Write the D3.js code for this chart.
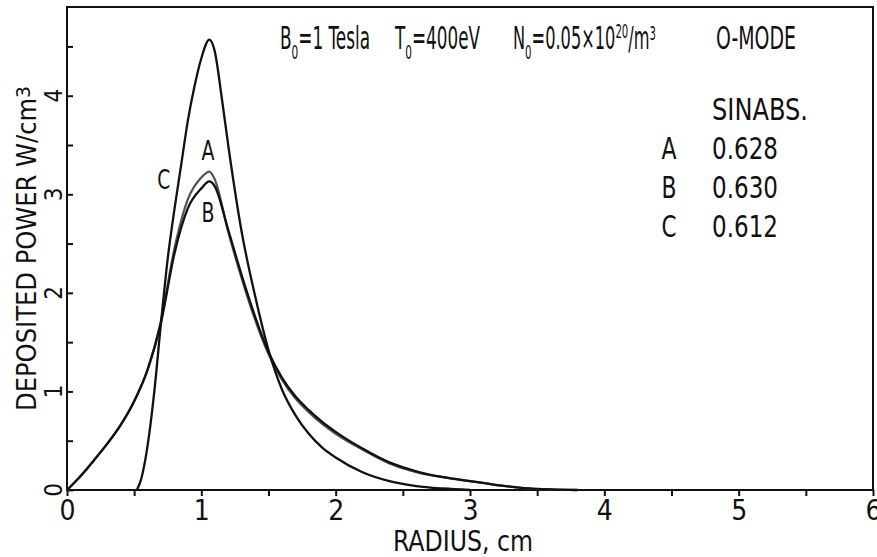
<!DOCTYPE html>
<html>
<head>
<meta charset="utf-8">
<script src="https://cdn.jsdelivr.net/npm/d3@7"></script>
<style>
  body { margin: 0; background: #fff; }
  text { font-family: "DejaVu Sans Condensed", "Liberation Sans Narrow", sans-serif; fill: #111; }
</style>
</head>
<body>
<svg id="chart" width="877" height="557"></svg>
<script>
// radius (cm) samples for curves A and B
const radiusAB = [0, 0.1, 0.2, 0.3, 0.4, 0.5, 0.6, 0.7, 0.8, 0.9, 1.0, 1.06, 1.1, 1.2, 1.3, 1.4, 1.5, 1.6, 1.7, 1.8, 1.9, 2.0, 2.2, 2.4, 2.6, 2.8, 3.0, 3.2, 3.4, 3.6, 3.8];
const powerA = [0, 0.14, 0.30, 0.47, 0.66, 0.90, 1.22, 1.72, 2.45, 2.95, 3.17, 3.23, 3.15, 2.62, 2.15, 1.73, 1.38, 1.12, 0.93, 0.79, 0.67, 0.57, 0.41, 0.27, 0.18, 0.13, 0.09, 0.05, 0.02, 0.006, 0];
const powerB = [0, 0.14, 0.30, 0.47, 0.66, 0.90, 1.22, 1.70, 2.40, 2.86, 3.06, 3.13, 3.08, 2.64, 2.18, 1.76, 1.40, 1.14, 0.95, 0.81, 0.69, 0.59, 0.42, 0.28, 0.19, 0.13, 0.09, 0.05, 0.02, 0.006, 0];
// curve C starts further out
const radiusC = [0.52, 0.55, 0.6, 0.65, 0.7, 0.75, 0.8, 0.85, 0.9, 0.95, 1.0, 1.06, 1.1, 1.15, 1.2, 1.3, 1.4, 1.5, 1.6, 1.7, 1.8, 1.9, 2.0, 2.2, 2.4, 2.6, 2.8, 3.0];
const powerC = [0, 0.1, 0.45, 1.0, 1.7, 2.35, 2.85, 3.3, 3.75, 4.1, 4.38, 4.57, 4.45, 4.0, 3.5, 2.62, 1.97, 1.42, 1.02, 0.76, 0.57, 0.43, 0.33, 0.18, 0.09, 0.04, 0.015, 0];

const yTicks = [0, 1, 2, 3, 4];
const legendKeys = ['A', 'B', 'C'];
const sinabs = ['0.628', '0.630', '0.612'];

const svg = d3.select('#chart');
const margin = { left: 67, right: 4, top: 7, bottom: 67 };
const width = +svg.attr('width');
const height = +svg.attr('height');

const xScale = d3.scaleLinear().domain([0, 6]).range([margin.left, width - margin.right]);
const yScale = d3.scaleLinear().domain([0, 4.9]).range([height - margin.bottom, margin.top]);

// frame
svg.append('rect')
  .attr('x', xScale(0)).attr('y', yScale(4.9))
  .attr('width', xScale(6) - xScale(0))
  .attr('height', yScale(0) - yScale(4.9))
  .attr('fill', 'none').attr('stroke', '#111').attr('stroke-width', 2);

// x axis: ticks every 0.5, outward
const xAxis = d3.axisBottom(xScale)
  .tickValues(d3.range(0, 6.01, 0.5))
  .tickSize(6).tickSizeOuter(0)
  .tickFormat(d => Number.isInteger(d) ? d : '');
const xAxisG = svg.append('g')
  .attr('transform', `translate(0,${yScale(0)})`)
  .call(xAxis);
xAxisG.select('.domain').remove();
xAxisG.selectAll('line').attr('stroke', '#111').attr('stroke-width', 2);
xAxisG.selectAll('text')
  .attr('font-size', 28).attr('dy', '0.95em').attr('y', 3)
  .style('font-family', '"DejaVu Sans Condensed", sans-serif')
  .attr('fill', '#111');

// y axis: ticks inward, labels rotated
const yAxis = d3.axisLeft(yScale)
  .tickValues(d3.range(0, 4.81, 0.5))
  .tickSize(-6).tickSizeOuter(0)
  .tickFormat('');
const yAxisG = svg.append('g')
  .attr('transform', `translate(${xScale(0)},0)`)
  .call(yAxis);
yAxisG.select('.domain').remove();
yAxisG.selectAll('line').attr('stroke', '#111').attr('stroke-width', 2);

svg.append('g').selectAll('text')
  .data(yTicks)
  .join('text')
  .attr('transform', d => `translate(62,${yScale(d)}) rotate(-90)`)
  .attr('text-anchor', 'middle')
  .attr('font-size', 24)
  .text(d => d);

// axis titles
svg.append('text')
  .attr('x', (xScale(0) + xScale(6)) / 2 - 7).attr('y', 551)
  .attr('text-anchor', 'middle')
  .attr('font-size', 28)
  .attr('textLength', 140).attr('lengthAdjust', 'spacingAndGlyphs')
  .text('RADIUS, cm');

const yLab = svg.append('text')
  .attr('transform', `translate(36,${yScale(2.45)}) rotate(-90)`)
  .attr('text-anchor', 'middle')
  .attr('font-size', 26)
  .attr('textLength', 325).attr('lengthAdjust', 'spacingAndGlyphs');
yLab.append('tspan').text('DEPOSITED  POWER  W/cm');
yLab.append('tspan').attr('dy', -6).attr('font-size', 20).text('3');

// curves
const line = d3.line()
  .x(d => xScale(d[0]))
  .y(d => yScale(d[1]))
  .curve(d3.curveMonotoneX);

const series = [
  { key: 'A', pts: d3.zip(radiusAB, powerA), colour: '#555' },
  { key: 'B', pts: d3.zip(radiusAB, powerB), colour: '#111' },
  { key: 'C', pts: d3.zip(radiusC, powerC), colour: '#111' }
];

svg.append('g').selectAll('path')
  .data(series)
  .join('path')
  .attr('d', d => line(d.pts))
  .attr('fill', 'none')
  .attr('stroke', d => d.colour)
  .attr('stroke-width', 2.3);

// curve letters
const curveLabels = [
  { t: 'A', x: 1.05, y: 3.35 },
  { t: 'B', x: 1.05, y: 2.72 },
  { t: 'C', x: 0.72, y: 3.05 }
];
svg.append('g').selectAll('text')
  .data(curveLabels)
  .join('text')
  .attr('x', d => xScale(d.x)).attr('y', d => yScale(d.y))
  .attr('text-anchor', 'middle')
  .attr('font-size', 26)
  .attr('textLength', 13).attr('lengthAdjust', 'spacingAndGlyphs')
  .text(d => d.t);

// header annotation: symbol with subscript 0
const hdr = svg.append('g').attr('font-size', 32);
function sub(x, main, rest, len) {
  const t = hdr.append('text').attr('x', x).attr('y', 49)
    .attr('textLength', len).attr('lengthAdjust', 'spacingAndGlyphs');
  t.append('tspan').text(main);
  t.append('tspan').attr('font-size', 20).attr('dy', 10).text('0');
  t.append('tspan').attr('dy', -10).text(rest);
  return t;
}
sub(280, 'B', '=1 Tesla', 90);
sub(395, 'T', '=400eV', 85);
const n = sub(513, 'N', '=0.05×10', 143);
n.append('tspan').attr('font-size', 20).attr('dy', -11).text('20');
n.append('tspan').attr('dy', 11).text('/m');
n.append('tspan').attr('font-size', 20).attr('dy', -9).text('3');
hdr.append('text').attr('x', 716).attr('y', 49)
  .attr('textLength', 80).attr('lengthAdjust', 'spacingAndGlyphs')
  .text('O-MODE');

// SINABS table
const tbl = svg.append('g').attr('font-size', 30);
tbl.append('text').attr('x', 712).attr('y', 120)
  .attr('textLength', 96).attr('lengthAdjust', 'spacingAndGlyphs')
  .text('SINABS.');
tbl.selectAll('.key')
  .data(legendKeys)
  .join('text')
  .attr('class', 'key')
  .attr('x', 669).attr('y', (d, i) => 159 + i * 39)
  .attr('text-anchor', 'middle')
  .attr('textLength', 15).attr('lengthAdjust', 'spacingAndGlyphs')
  .text(d => d);
tbl.selectAll('.val')
  .data(sinabs)
  .join('text')
  .attr('class', 'val')
  .attr('x', 712).attr('y', (d, i) => 159 + i * 39)
  .attr('textLength', 66).attr('lengthAdjust', 'spacingAndGlyphs')
  .text(d => d);
</script>
</body>
</html>
